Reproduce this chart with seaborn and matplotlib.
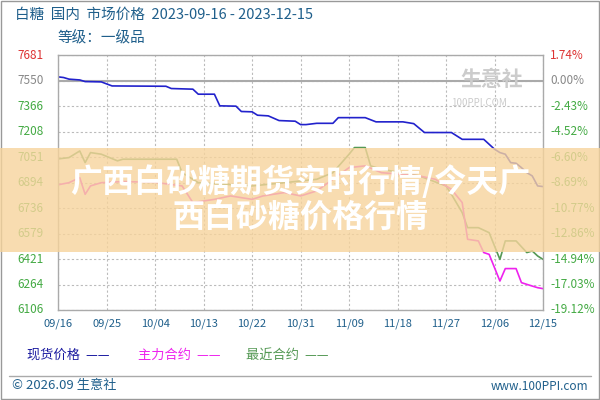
import numpy as np
import pandas as pd
import matplotlib
matplotlib.use("Agg")
import matplotlib.pyplot as plt
import seaborn as sns

sns.set_theme(style="white")
plt.rcParams["font.family"] = ["Noto Sans CJK SC", "DejaVu Sans"]

BLUE = "#2222cc"; MAGENTA = "#ee22ee"; GREEN = "#559955"; TXT = "#1f5f8b"

spot_day = [0, 1, 2, 4, 5, 8, 10, 20, 21, 25, 26, 29, 30, 33, 34, 36, 37, 39, 41, 44, 45, 46, 48, 51,
            52, 57, 59, 64, 66, 68, 73, 75, 79, 81, 82, 83, 84, 85, 86, 87, 88, 89, 90]
spot_val = [7547, 7543, 7533, 7528, 7518, 7516, 7491, 7489, 7475, 7471, 7440, 7440, 7368, 7366, 7333,
            7331, 7310, 7306, 7277, 7273, 7252, 7252, 7260, 7260, 7295, 7295, 7269, 7269, 7258, 7203,
            7203, 7161, 7161, 7100, 7079, 7069, 7017, 7013, 6986, 6955, 6935, 6873, 6869]

main_day = [0, 2, 4, 5, 6, 8, 12, 18, 23, 25, 29, 32, 36, 38, 42, 45, 48, 51, 54, 57, 60, 67, 70,
            73, 75, 76, 78, 79, 80, 82, 83, 85, 86, 88, 89, 90]
main_val = [6880, 6893, 6924, 6821, 6873, 6893, 6900, 6895, 6873, 6770, 6790, 6811, 6790, 6811, 6832,
            6811, 6842, 6914, 6986, 6997, 6955, 6935, 6914, 6852, 6770, 6543, 6533, 6461, 6450, 6285,
            6362, 6362, 6275, 6254, 6244, 6238]

near_day = [0, 2, 4, 5, 6, 8, 11, 12, 22, 23, 26, 36, 42, 48, 51, 54, 55, 57, 58, 60, 67, 72, 73,
            75, 76, 78, 80, 82, 83, 85, 87, 88, 89, 90]
near_val = [7040, 7048, 7089, 7017, 7079, 7069, 7028, 7038, 7038, 6955, 6893, 6873, 6893, 6914, 6955,
            7069, 7110, 7110, 6997, 6976, 6935, 6873, 6821, 6708, 6615, 6615, 6584, 6419, 6533, 6533,
            6461, 6471, 6440, 6419]

y_labels = ["6106", "6264", "6421", "6579", "6736", "6894", "7051", "7208", "7366", "7550", "7681"]
pct_labels = ["-19.12%", "-17.03%", "-14.94%", "-12.86%", "-10.77%", "-8.69%", "-6.60%",
              "-4.52%", "-2.43%", "0.00%", "1.74%"]
x_labels = ["09/16", "09/25", "10/04", "10/13", "10/22", "10/31", "11/09", "11/18", "11/27",
            "12/06", "12/15"]

fig = plt.figure(figsize=(6, 4), dpi=100)
ax = fig.add_axes([0.097, 0.225, 0.808, 0.637])
YMIN, YMAX = 6106, 7681
yt = np.linspace(YMIN, YMAX, 11)

ax.set_facecolor("white")
for v in yt:
    ax.axhline(v, color="#bbbbbb", lw=0.8, ls=(0, (2, 2)), zorder=0)
for d in range(0, 91, 9):
    ax.axvline(d, color="#bbbbbb", lw=0.8, ls=(0, (2, 2)), zorder=0)
ax.axhline(yt[9], color="#aaaaaa", lw=1.5, zorder=0)

df = pd.concat([
    pd.DataFrame({"day": spot_day, "val": spot_val, "s": "spot"}),
    pd.DataFrame({"day": main_day, "val": main_val, "s": "main"}),
    pd.DataFrame({"day": near_day, "val": near_val, "s": "near"}),
])
sns.lineplot(data=df, x="day", y="val", hue="s", palette={"spot": BLUE, "main": MAGENTA, "near": GREEN},
             hue_order=["near", "main", "spot"], lw=1.2, ax=ax, legend=False, estimator=None)

ax.set_xlim(0, 90); ax.set_ylim(YMIN, YMAX)
ax.set_xticks(range(0, 91, 9)); ax.set_xticklabels(x_labels, fontsize=8, color=TXT)
ax.set_yticks(yt); ax.set_yticklabels([])
ax.tick_params(length=0, pad=6)
ax.set_xlabel(""); ax.set_ylabel("")
for sp in ax.spines.values():
    sp.set_color("#aaaaaa"); sp.set_linewidth(1)

for i, (v, lab, pl) in enumerate(zip(yt, y_labels, pct_labels)):
    c = "#dd3333" if i == 10 else ("#888888" if i == 9 else "#44aa44")
    ax.text(-0.085, v, lab, transform=ax.get_yaxis_transform(), fontsize=8.5, color=c,
            va="center", ha="left")
    ax.text(1.015, v, pl, transform=ax.get_yaxis_transform(), fontsize=8.5, color=c,
            va="center", ha="left")

# watermark
ax.text(0.83, 0.88, "生意社", transform=ax.transAxes, fontsize=15, color="#cccccc", fontweight="bold")
ax.text(0.81, 0.80, "100PPI.COM", transform=ax.transAxes, fontsize=7, color="#cccccc")

# header / legend / footer
fig.text(0.025, 0.962, "白糖  国内  市场价格  2023-09-16 - 2023-12-15", fontsize=10.5, color=TXT, va="center")
fig.text(0.095, 0.905, "等级：一级品", fontsize=10.5, color=TXT, va="center")
fig.text(0.045, 0.112, "现货价格  ——", fontsize=9.5, color="#1a1aa0", va="center")
fig.text(0.23, 0.112, "主力合约  ——", fontsize=9.5, color=MAGENTA, va="center")
fig.text(0.41, 0.112, "最近合约  ——", fontsize=9.5, color=GREEN, va="center")
fig.add_artist(plt.Line2D([0.015, 0.985], [0.06, 0.06], color="#aaaaaa", lw=1))
fig.text(0.02, 0.035, "© 2026.09 生意社", fontsize=9.5, color=TXT, va="center")
fig.text(0.98, 0.035, "www.100PPI.com", fontsize=8.5, color=TXT, va="center", ha="right")
fig.add_artist(plt.Rectangle((0.002, 0.002), 0.996, 0.996, fill=False, ec="#999999", lw=1))

# banner overlay
fig.add_artist(plt.Rectangle((0, 0.37), 1, 0.26, color="#f7d49c", alpha=0.8, lw=0))
fig.text(0.5, 0.5, "广西白砂糖期货实时行情/今天广\n西白砂糖价格行情", fontsize=23, color="white",
         fontweight="bold", ha="center", va="center", linespacing=1.15)

fig.savefig("out.png", dpi=100)
